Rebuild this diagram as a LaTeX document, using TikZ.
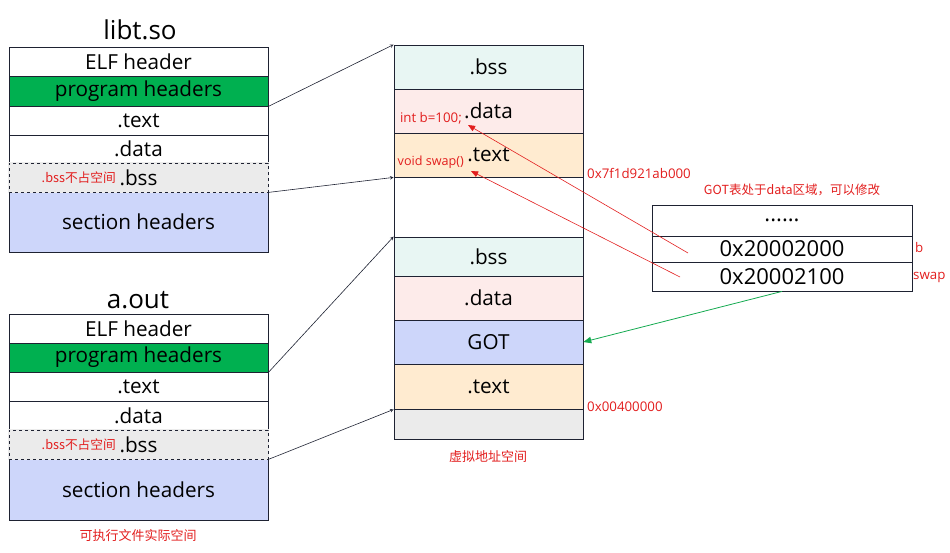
\documentclass[tikz,border=0pt]{standalone}
\usepackage{fontspec}
\setmainfont{Open Sans}
\newfontfamily\cjk{Noto Sans CJK SC}
\usepackage{tikz}
\usetikzlibrary{calc, arrows}
\usepackage{xcolor}
\definecolor{segline}{RGB}{30,34,50}
\definecolor{elfgreen}{RGB}{0,176,80}
\definecolor{bssgray}{RGB}{235,235,235}
\definecolor{shblue}{RGB}{205,214,250}
\definecolor{mint}{RGB}{232,246,243}
\definecolor{rose}{RGB}{253,235,234}
\definecolor{peach}{RGB}{255,235,208}
\definecolor{notered}{RGB}{226,30,30}
\definecolor{linkgreen}{RGB}{20,170,80}
\newcommand\segfont{\fontsize{20.7}{24}\selectfont}
\newcommand\notefont{\fontsize{13.3}{15}\selectfont}
\tikzset{
	seg/.style={draw=segline, line width=0.8pt, inner sep=0pt, font=\segfont, text=black},
	filerow/.style={seg, minimum width=259pt},
	vmrow/.style={seg, minimum width=189pt},
	gotrow/.style={seg, minimum width=260pt, font=\fontsize{22}{25}\selectfont},
	bssrow/.style={filerow, fill=bssgray, dashed,
		preaction={draw=bssgray, solid, line width=1.6pt}},
	title/.style={inner sep=0pt, font=\fontsize{26}{30}\selectfont},
	note/.style={inner sep=0pt, font=\notefont, text=notered},
	cjknote/.style={note, font=\cjk\fontsize{13}{15}\selectfont},
	maplink/.style={->, >=stealth, draw=segline, line width=0.6pt},
	reflink/.style={->, >=triangle 45, draw=notered, line width=0.6pt},
	gotlink/.style={->, >=triangle 45, draw=linkgreen, line width=0.8pt}
}
\begin{document}
\begin{tikzpicture}[x=1pt, y=-1pt]
\useasboundingbox (0,0) rectangle (950,552);
\node[title] (ltitle) at ( 140, 30 ) {libt.so};
\node[filerow, minimum height=29pt] (lelf) at ( 138.5, 61.5 ) {ELF header};
\node[filerow, fill=elfgreen, minimum height=30pt] (lprog) at ( 138.5, 91 ) {program headers};
\node[filerow, minimum height=29pt] (ltext) at ( 138.5, 120.5 ) {.text};
\node[filerow, minimum height=28pt] (ldata) at ( 138.5, 149 ) {.data};
\node[filerow, fill=shblue, minimum height=60pt] (lsec) at ( 138.5, 222 ) {section headers};
\node[bssrow, minimum height=29pt] (lbss) at ( 138.5, 177.5 ) {.bss};
\node[cjknote, font=\cjk\fontsize{12.7}{15}\selectfont, anchor=east] (lnote) at ( 116, 178 ) {.bss不占空间};
\node[title] (atitle) at ( 138, 300 ) {a.out};
\node[filerow, minimum height=29pt] (aelf) at ( 138.5, 328.5 ) {ELF header};
\node[filerow, fill=elfgreen, minimum height=29pt] (aprog) at ( 138.5, 357.5 ) {program headers};
\node[filerow, minimum height=29pt] (atext) at ( 138.5, 386.5 ) {.text};
\node[filerow, minimum height=29pt] (adata) at ( 138.5, 415.5 ) {.data};
\node[filerow, fill=shblue, minimum height=61pt] (asec) at ( 138.5, 489.5 ) {section headers};
\node[bssrow, minimum height=29pt] (abss) at ( 138.5, 444.5 ) {.bss};
\node[cjknote, font=\cjk\fontsize{12.7}{15}\selectfont, anchor=east] (anote) at ( 116, 445 ) {.bss不占空间};
\node[cjknote] (acap) at ( 138, 536 ) {可执行文件实际空间};
\node[vmrow, fill=mint, minimum height=44pt] (vbss) at ( 488.5, 67 ) {.bss};
\node[vmrow, fill=rose, minimum height=44pt] (vdata) at ( 488.5, 111 ) {.data};
\node[vmrow, fill=peach, minimum height=44pt] (vtext) at ( 488.5, 155 ) {.text};
\node[vmrow, minimum height=60pt] (vgap) at ( 488.5, 207 ) {};
\node[vmrow, fill=mint, minimum height=39pt] (vbss2) at ( 488.5, 256.5 ) {.bss};
\node[vmrow, fill=rose, minimum height=44pt] (vdata2) at ( 488.5, 298 ) {.data};
\node[vmrow, fill=shblue, minimum height=44pt] (vgot) at ( 488.5, 342 ) {GOT};
\node[vmrow, fill=peach, minimum height=45pt] (vtext2) at ( 488.5, 386.5 ) {.text};
\node[vmrow, fill=bssgray, minimum height=30pt] (vlow) at ( 488.5, 424 ) {};
\node[note, anchor=east] (bvar) at ( 462, 118 ) {int b=100;};
\node[note, font=\fontsize{12.6}{15}\selectfont, anchor=east] (sfun) at ( 464, 162 ) {void swap()};
\node[note, anchor=west] (libaddr) at ( 587, 173 ) {0x7f1d921ab000};
\node[note, anchor=west] (exeaddr) at ( 587, 407 ) {0x00400000};
\node[cjknote] (vcap) at ( 488, 457 ) {虚拟地址空间};
\node[cjknote, font=\cjk\fontsize{12.5}{15}\selectfont] (gotnote) at ( 792, 190 ) {GOT表处于data区域，可以修改};
\node[gotrow, minimum height=31pt] (gdots) at ( 782, 220.5 ) {......};
\node[gotrow, minimum height=26pt] (gb) at ( 782, 249 ) {0x20002000};
\node[gotrow, minimum height=29pt] (gswap) at ( 782, 276.5 ) {0x20002100};
\node[note, anchor=west] (bname) at ( 915, 248 ) {b};
\node[note, anchor=west] (sname) at ( 913, 277 ) {swap};
\coordinate (bsrc) at ( 688, 253 );
\coordinate (ssrc) at ( 680, 277 );
\coordinate (btip) at ( 468, 125 );
\coordinate (stip) at ( 471, 171 );
\draw[maplink] (lprog.south east) -- (vbss.north west);
\draw[maplink] (lbss.south east) -- (vtext.south west);
\draw[maplink] (aprog.south east) -- (vbss2.north west);
\draw[maplink] (abss.south east) -- (vtext2.south west);
\draw[reflink] (bsrc) -- (btip);
\draw[reflink] (ssrc) -- (stip);
\draw[gotlink] (gswap.south) -- (vgot.east);
\end{tikzpicture}
\end{document}
